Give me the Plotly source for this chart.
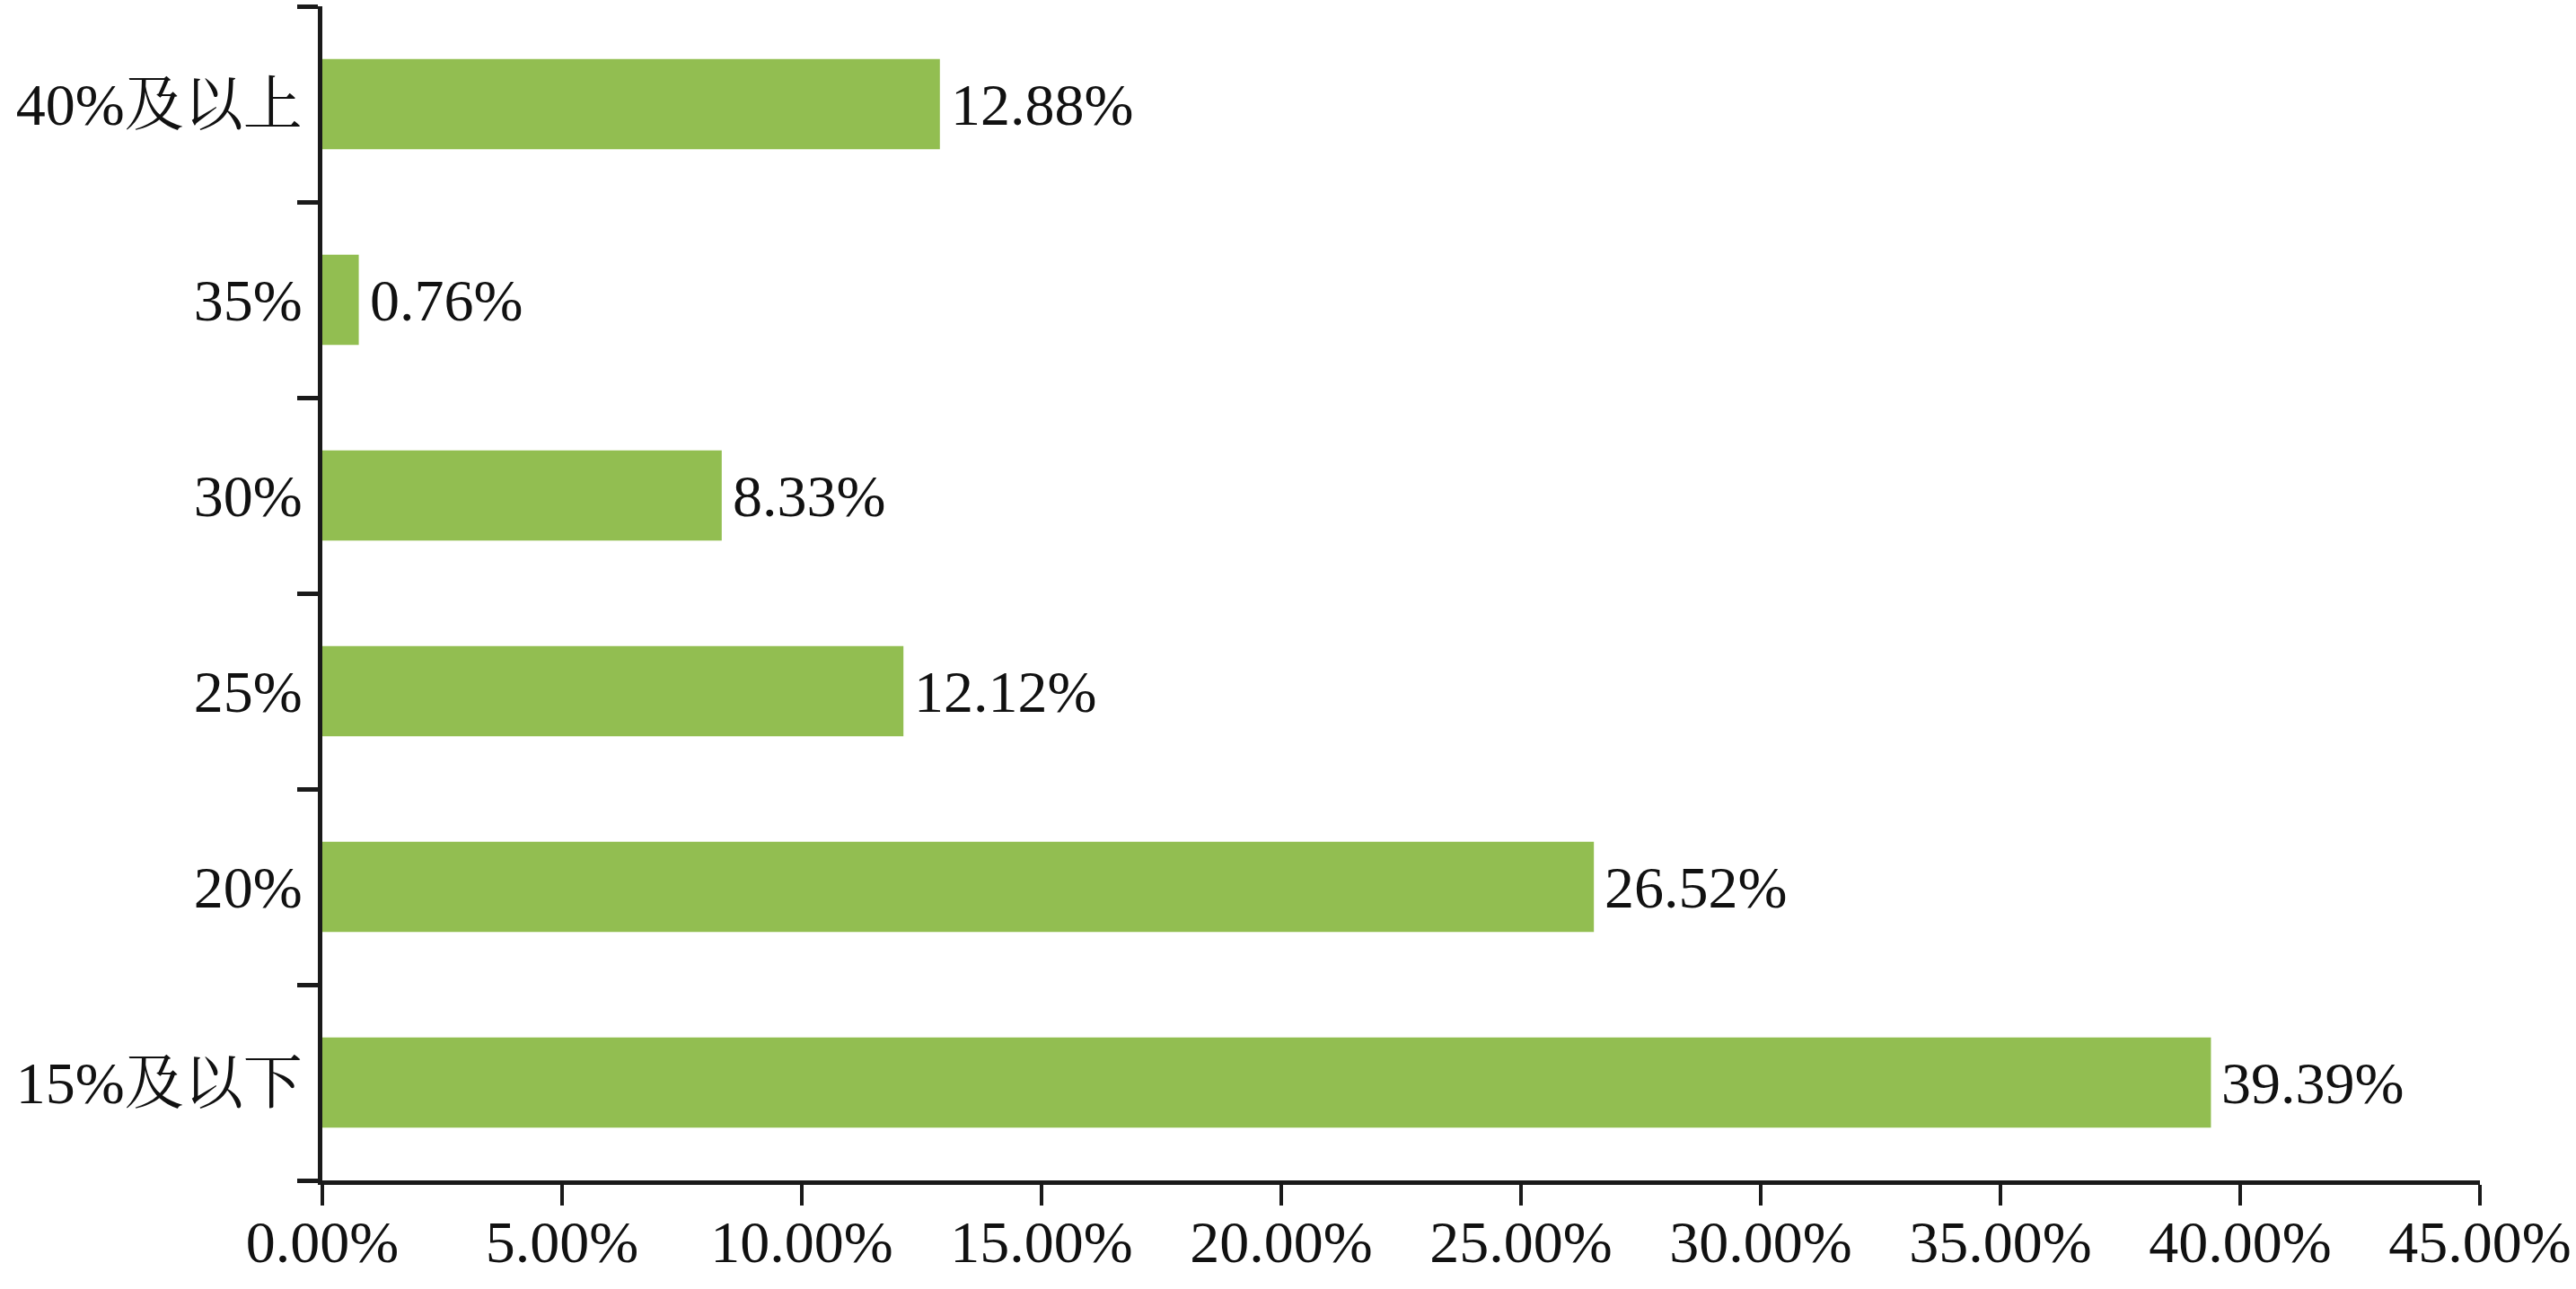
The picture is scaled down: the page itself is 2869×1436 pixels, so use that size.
import plotly.graph_objects as go

categories = ["15%及以下", "20%", "25%", "30%", "35%", "40%及以上"]
values = [39.39, 26.52, 12.12, 8.33, 0.76, 12.88]
x_ticks = [0, 5, 10, 15, 20, 25, 30, 35, 40, 45]

FONT = "Liberation Serif, Times New Roman, Noto Serif CJK SC, Noto Sans CJK SC, serif"
AXIS_COLOR = "#1a1a1a"
TEXT_COLOR = "#111111"

fig = go.Figure()
fig.add_trace(go.Bar(
    x=values,
    y=categories,
    orientation="h",
    marker=dict(color="#92BE51", line=dict(width=0)),
    width=0.46,
    showlegend=False,
    hoverinfo="x+y",
))

for v, c in zip(values, categories):
    fig.add_annotation(
        x=v, y=c, xref="x", yref="y",
        text=f"{v:.2f}%",
        showarrow=False,
        xanchor="left", yanchor="middle",
        xshift=10,
        font=dict(family=FONT, size=66, color=TEXT_COLOR),
    )

fig.update_layout(
    width=2869,
    height=1436,
    margin=dict(l=359, r=107, t=7, b=121),
    paper_bgcolor="white",
    plot_bgcolor="white",
    font=dict(family=FONT, size=66, color=TEXT_COLOR),
)

fig.update_xaxes(
    range=[0, 45],
    tickvals=x_ticks,
    ticktext=[f"{t:.2f}%" for t in x_ticks],
    automargin=False,
    showgrid=False,
    zeroline=False,
    showline=True,
    linecolor=AXIS_COLOR,
    linewidth=5,
    ticks="outside",
    ticklen=23,
    tickwidth=4,
    tickcolor=AXIS_COLOR,
    ticklabelstandoff=-16,
    tickfont=dict(family=FONT, size=66, color=TEXT_COLOR),
)

fig.update_yaxes(
    type="category",
    categoryorder="array",
    categoryarray=categories,
    range=[-0.5, 5.5],
    automargin=False,
    showgrid=False,
    zeroline=False,
    showline=True,
    linecolor=AXIS_COLOR,
    linewidth=5,
    ticks="outside",
    tickson="boundaries",
    ticklen=23,
    tickwidth=5,
    tickcolor=AXIS_COLOR,
    ticklabelstandoff=4,
    tickfont=dict(family=FONT, size=66, color=TEXT_COLOR),
)

fig.write_html(
    "out.html",
    config={"displayModeBar": False},
    post_script="document.body.style.margin='0';document.body.style.overflow='hidden';",
)
